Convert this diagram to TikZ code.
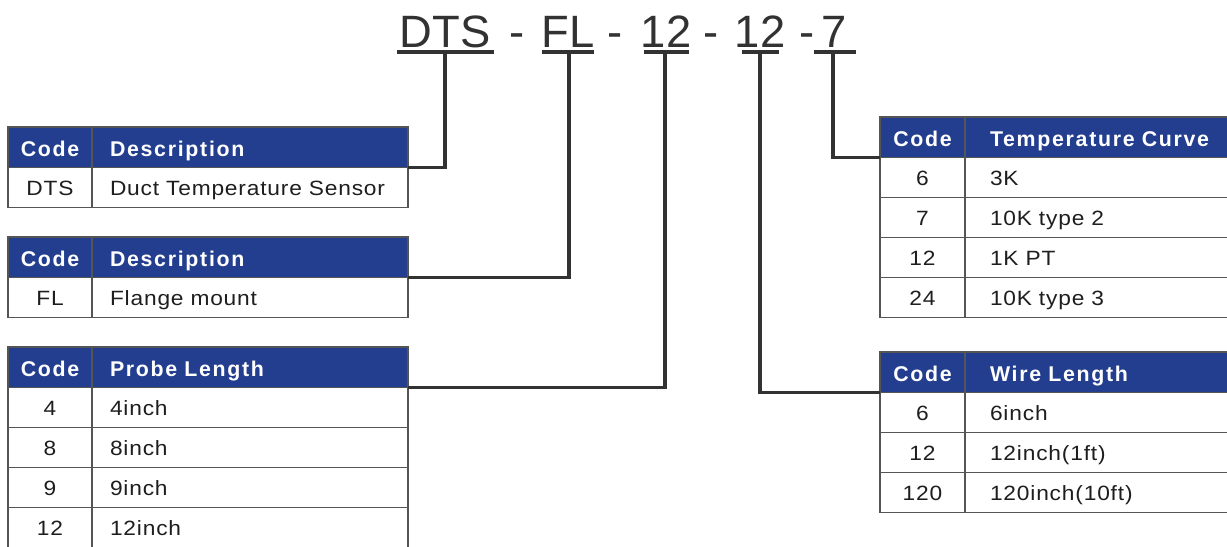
\documentclass[tikz,border=0pt]{standalone}
\usepackage{fontspec}
\setmainfont{Liberation Sans}
\newfontfamily\tblfont[LetterSpace=4,FakeStretch=1.1]{Liberation Sans}
\newfontfamily\hdrfont[LetterSpace=8]{Liberation Sans}
\newfontfamily\ttlfont{Liberation Sans}
\definecolor{hdrblue}{RGB}{35,62,143}
\definecolor{gridgray}{RGB}{85,85,85}
\definecolor{inkgray}{RGB}{50,50,50}
\definecolor{txtdark}{RGB}{30,30,30}
\begin{document}
\begin{tikzpicture}[x=0.75pt,y=-0.75pt,
  cellbase/.style={draw=gridgray, line width=1.1pt, inner sep=0pt, outer sep=0pt, anchor=north west},
  hdr/.style={cellbase, fill=hdrblue, text=white, font=\hdrfont\bfseries\fontsize{16}{18}\selectfont, minimum height=30.4pt, text height=16.5pt, text depth=3pt},
  row/.style={cellbase, fill=white, text=txtdark, font=\tblfont\fontsize{15.5}{18}\selectfont, minimum height=30pt, text height=15.5pt, text depth=3pt},
  lc/.style={minimum width=63pt},
  ld/.style={text width=210pt, inner xsep=13.5pt, align=left},
  rc/.style={minimum width=63.75pt},
  rd/.style={text width=220pt, inner xsep=18.75pt, align=left},
  ttl/.style={font=\ttlfont\fontsize{34}{40}\selectfont, text=inkgray, inner sep=0pt, anchor=base},
  conn/.style={draw=inkgray, line width=2.3pt, line join=miter},
]
\useasboundingbox (0,0) rectangle (1227,546);
\fill[white] (0,0) rectangle (1227,546);
\clip (0,0) rectangle (1227,546);

% ---- title
\node[ttl] (tDTS) at (445,47) {DTS};
\node[ttl] (m1) at (517,47) {-};
\node[ttl] (tFL) at (568,47) {FL};
\node[ttl] (m2) at (615,47) {-};
\node[ttl] (tPL) at (666,47) {12};
\node[ttl] (m3) at (711,47) {-};
\node[ttl] (tWL) at (760,47) {12};
\node[ttl] (m4) at (807,47) {-};
\node[ttl] (tTC) at (834,47) {7};

\coordinate (uDTSa) at (397,52); \coordinate (uDTSb) at (494,52); \coordinate (sDTS) at (445,52);
\coordinate (uFLa) at (542,52);  \coordinate (uFLb) at (594,52);  \coordinate (sFL) at (569,52);
\coordinate (uPLa) at (644,52);  \coordinate (uPLb) at (689,52);  \coordinate (sPL) at (665,52);
\coordinate (uWLa) at (742,52);  \coordinate (uWLb) at (779,52);  \coordinate (sWL) at (760,52);
\coordinate (uTCa) at (814,52);  \coordinate (uTCb) at (856,52);  \coordinate (sTC) at (833,52);

% ---- table 1
\node[hdr,lc] (t1h1) at (8,127) {Code};
\node[hdr,ld] (t1h2) at (t1h1.north east) {Description};
\node[row,lc] (t1c1) at (t1h1.south west) {DTS};
\node[row,ld] (t1d1) at (t1c1.north east) {Duct Temperature Sensor};

% ---- table 2
\node[hdr,lc] (t2h1) at (8,237) {Code};
\node[hdr,ld] (t2h2) at (t2h1.north east) {Description};
\node[row,lc] (t2c1) at (t2h1.south west) {FL};
\node[row,ld] (t2d1) at (t2c1.north east) {Flange mount};

% ---- table 3
\node[hdr,lc] (t3h1) at (8,347) {Code};
\node[hdr,ld] (t3h2) at (t3h1.north east) {Probe Length};
\node[row,lc] (t3c1) at (t3h1.south west) {4};
\node[row,ld] (t3d1) at (t3c1.north east) {4inch};
\node[row,lc] (t3c2) at (t3c1.south west) {8};
\node[row,ld] (t3d2) at (t3c2.north east) {8inch};
\node[row,lc] (t3c3) at (t3c2.south west) {9};
\node[row,ld] (t3d3) at (t3c3.north east) {9inch};
\node[row,lc] (t3c4) at (t3c3.south west) {12};
\node[row,ld] (t3d4) at (t3c4.north east) {12inch};

% ---- table 4
\node[hdr,rc] (t4h1) at (880,117) {Code};
\node[hdr,rd] (t4h2) at (t4h1.north east) {Temperature Curve};
\node[row,rc] (t4c1) at (t4h1.south west) {6};
\node[row,rd] (t4d1) at (t4c1.north east) {3K};
\node[row,rc] (t4c2) at (t4c1.south west) {7};
\node[row,rd] (t4d2) at (t4c2.north east) {10K type 2};
\node[row,rc] (t4c3) at (t4c2.south west) {12};
\node[row,rd] (t4d3) at (t4c3.north east) {1K PT};
\node[row,rc] (t4c4) at (t4c3.south west) {24};
\node[row,rd] (t4d4) at (t4c4.north east) {10K type 3};

% ---- table 5
\node[hdr,rc] (t5h1) at (880,352) {Code};
\node[hdr,rd] (t5h2) at (t5h1.north east) {Wire Length};
\node[row,rc] (t5c1) at (t5h1.south west) {6};
\node[row,rd] (t5d1) at (t5c1.north east) {6inch};
\node[row,rc] (t5c2) at (t5c1.south west) {12};
\node[row,rd] (t5d2) at (t5c2.north east) {12inch(1ft)};
\node[row,rc] (t5c3) at (t5c2.south west) {120};
\node[row,rd] (t5d3) at (t5c3.north east) {120inch(10ft)};

% ---- underlines and connectors
\draw[conn] (uDTSa) -- (uDTSb);
\draw[conn] (uFLa) -- (uFLb);
\draw[conn] (uPLa) -- (uPLb);
\draw[conn] (uWLa) -- (uWLb);
\draw[conn] (uTCa) -- (uTCb);
\draw[conn] (sDTS) |- (t1h2.south east);
\draw[conn] (sFL) |- (t2h2.south east);
\draw[conn] (sPL) |- (t3h2.south east);
\draw[conn] (sWL) |- (t5h1.south west);
\draw[conn] (sTC) |- (t4h1.south west);
\end{tikzpicture}
\end{document}
